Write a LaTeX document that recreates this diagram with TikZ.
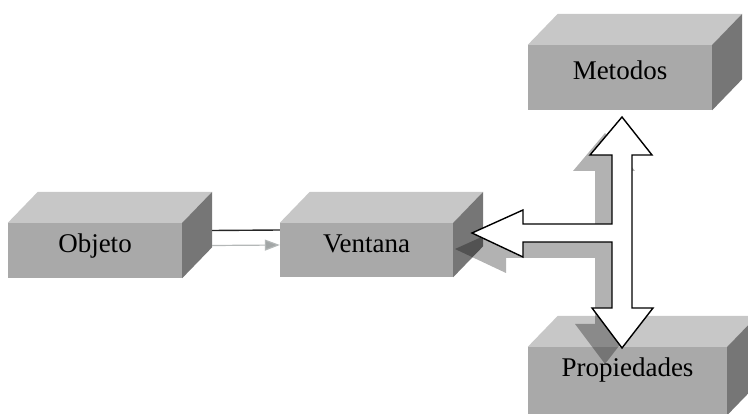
\documentclass[tikz,border=0pt]{standalone}
\usepackage{fontspec}
\setmainfont{Liberation Serif}
\usetikzlibrary{positioning,arrows.meta}

\definecolor{frontgray}{HTML}{A9A9A9}
\definecolor{topgray}{HTML}{C7C7C7}
\definecolor{sidegray}{HTML}{767676}
\definecolor{linkgray}{HTML}{B4B8B8}

% top and right faces of a box node
\newcommand\boxdepth[1]{%
  \fill[topgray] (#1.north west) -- ([shift={(30,-31)}]#1.north west)
    -- ([shift={(30,-31)}]#1.north east) -- (#1.north east) -- cycle;
  \fill[sidegray] (#1.north east) -- ([shift={(30,-31)}]#1.north east)
    -- ([shift={(30,-31)}]#1.south east) -- (#1.south east) -- cycle;
}

% outline of the three-way arrow, around the hub
\newcommand\tarrow{(0,-116) -- (30,-78) -- (10,-78) -- (10,75) -- (31,75) -- (0,115)
  -- (-30,75) -- (-10,75) -- (-10,9) -- (-99,9) -- (-99,24) -- (-150,0)
  -- (-99,-23) -- (-99,-9) -- (-10,-9) -- (-10,-78) -- (-32,-78) -- cycle}

\begin{document}
\begin{tikzpicture}
    [x=1pt,y=-1pt,
     box/.style={rectangle, fill=frontgray, inner sep=0pt, text height=0.7em, text depth=0.22em,
                 font=\fontsize{27}{31}\selectfont}]
  \useasboundingbox (0,0) rectangle (748,414);

  \node[box, minimum width=174pt, minimum height=55pt] (objeto) at (95,250.5) {Objeto};
  \node[box, minimum width=173pt, minimum height=54pt] (ventana) at (366.5,250) {Ventana};
  \node[box, minimum width=184pt, minimum height=65pt] (metodos) at (620,77.5) {Metodos};
  \node[box, minimum width=199pt, minimum height=68pt, text depth=16pt] (propiedades) at (627.5,381) {Propiedades};

  \foreach \b in {objeto,ventana,metodos,propiedades}{
    \boxdepth{\b}
  }

  % link objeto -> ventana
  \draw[line width=1.4pt, black!85] ([shift={(30,-20)}]objeto.east) -- ([shift={(0,-20)}]ventana.west);
  \draw[line width=1.2pt, linkgray, -{Triangle[length=15pt,width=11pt,fill=linkgray!90!black]}]
    ([shift={(30,-5)}]objeto.east) -- ([shift={(0,-5)}]ventana.west);

  % three-way arrow with its shadow
  \coordinate (hub) at (622,233);
  \fill[black, opacity=0.3, shift={(hub)}, shift={(-17,16)}] \tarrow;
  \draw[fill=white, line width=1.4pt, shift={(hub)}] \tarrow;
\end{tikzpicture}
\end{document}
